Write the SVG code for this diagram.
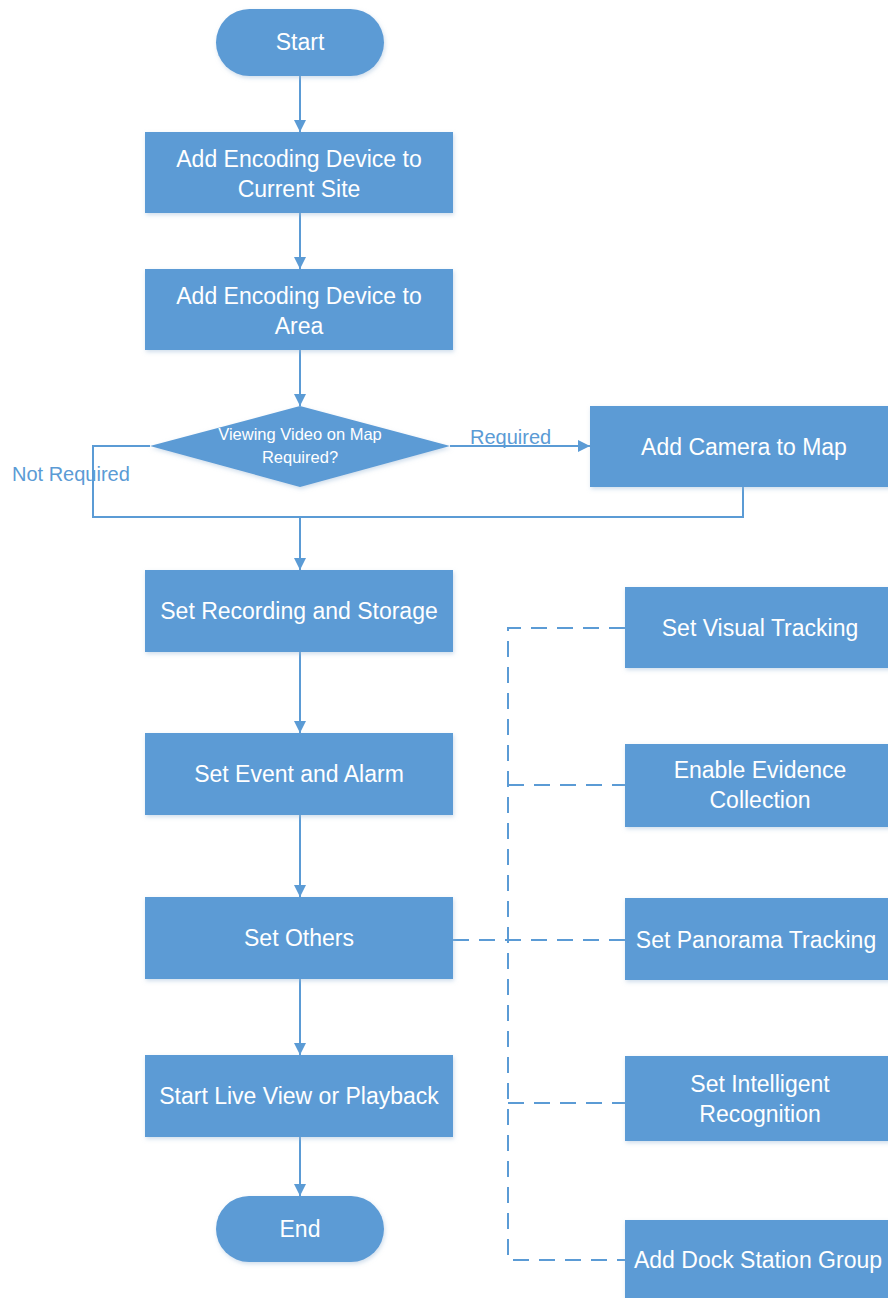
<svg xmlns="http://www.w3.org/2000/svg" width="888" height="1298" viewBox="0 0 888 1298">
<style>
.n{fill:#5B9BD5;filter:url(#sh)}
.t{fill:#fff;font-family:"Liberation Sans",Arial,sans-serif;font-size:23px;text-anchor:middle}
.ts{fill:#fff;font-family:"Liberation Sans",Arial,sans-serif;font-size:16.5px;text-anchor:middle}
.lbl{fill:#5B9BD5;font-family:"Liberation Sans",Arial,sans-serif;font-size:20px}
.c{fill:none;stroke:#5B9BD5;stroke-width:2}
.d{fill:none;stroke:#5B9BD5;stroke-width:2;stroke-dasharray:16 10}
</style>
<defs>
<filter id="sh" x="-10%" y="-10%" width="120%" height="130%">
<feDropShadow dx="1" dy="2" stdDeviation="2" flood-color="#9fbcd8" flood-opacity="0.5"/>
</filter>
<marker id="ah" markerWidth="12" markerHeight="12" refX="12" refY="6" orient="auto" markerUnits="userSpaceOnUse">
<path d="M0,0 L12,6 L0,12 Z" fill="#5B9BD5"/>
</marker>
</defs>
<rect width="888" height="1298" fill="#fff"/>
<g id="connectors">
<path class="c" d="M300,76 V132" marker-end="url(#ah)"/>
<path class="c" d="M300,213 V269" marker-end="url(#ah)"/>
<path class="c" d="M300,350 V406" marker-end="url(#ah)"/>
<path class="c" d="M450,446 H590" marker-end="url(#ah)"/>
<path class="c" d="M150,446 H93 V517 H743 V487"/>
<path class="c" d="M300,517 V570" marker-end="url(#ah)"/>
<path class="c" d="M300,652 V733" marker-end="url(#ah)"/>
<path class="c" d="M300,815 V897" marker-end="url(#ah)"/>
<path class="c" d="M300,979 V1055" marker-end="url(#ah)"/>
<path class="c" d="M300,1137 V1196" marker-end="url(#ah)"/>
<path class="d" d="M625,628 H508 V1260 H625"/>
<path class="d" d="M508,785 H625"/>
<path class="d" d="M453,940 H625"/>
<path class="d" d="M508,1103 H625"/>
<text class="lbl" x="470" y="444">Required</text>
<text class="lbl" x="12" y="481">Not Required</text>
</g>
<g id="start"><rect class="n" x="216" y="9" width="168" height="67" rx="33.5"/><text class="t" x="300" y="50">Start</text></g>
<g id="add-site"><rect class="n" x="145" y="132" width="308" height="81"/><text class="t" x="299" y="167">Add Encoding Device to</text><text class="t" x="299" y="197">Current Site</text></g>
<g id="add-area"><rect class="n" x="145" y="269" width="308" height="81"/><text class="t" x="299" y="304">Add Encoding Device to</text><text class="t" x="299" y="334">Area</text></g>
<g id="decision"><polygon class="n" points="300,406 450,446 300,487 150,446"/><text class="ts" x="300" y="440">Viewing Video on Map</text><text class="ts" x="300" y="463">Required?</text></g>
<g id="camera-map"><rect class="n" x="590" y="406" width="310" height="81"/><text class="t" x="744" y="455">Add Camera to Map</text></g>
<g id="recording"><rect class="n" x="145" y="570" width="308" height="82"/><text class="t" x="299" y="619">Set Recording and Storage</text></g>
<g id="event"><rect class="n" x="145" y="733" width="308" height="82"/><text class="t" x="299" y="782">Set Event and Alarm</text></g>
<g id="others"><rect class="n" x="145" y="897" width="308" height="82"/><text class="t" x="299" y="946">Set Others</text></g>
<g id="liveview"><rect class="n" x="145" y="1055" width="308" height="82"/><text class="t" x="299" y="1104">Start Live View or Playback</text></g>
<g id="end"><rect class="n" x="216" y="1196" width="168" height="66" rx="33"/><text class="t" x="300" y="1237">End</text></g>
<g id="visual"><rect class="n" x="625" y="587" width="275" height="81"/><text class="t" x="760" y="636">Set Visual Tracking</text></g>
<g id="evidence"><rect class="n" x="625" y="744" width="275" height="83"/><text class="t" x="760" y="778">Enable Evidence</text><text class="t" x="760" y="808">Collection</text></g>
<g id="panorama"><rect class="n" x="625" y="898" width="275" height="82"/><text class="t" x="756" y="948">Set Panorama Tracking</text></g>
<g id="intelligent"><rect class="n" x="625" y="1056" width="275" height="85"/><text class="t" x="760" y="1092">Set Intelligent</text><text class="t" x="760" y="1122">Recognition</text></g>
<g id="dock"><rect class="n" x="625" y="1220" width="275" height="90"/><text class="t" x="758" y="1268">Add Dock Station Group</text></g>
</svg>
